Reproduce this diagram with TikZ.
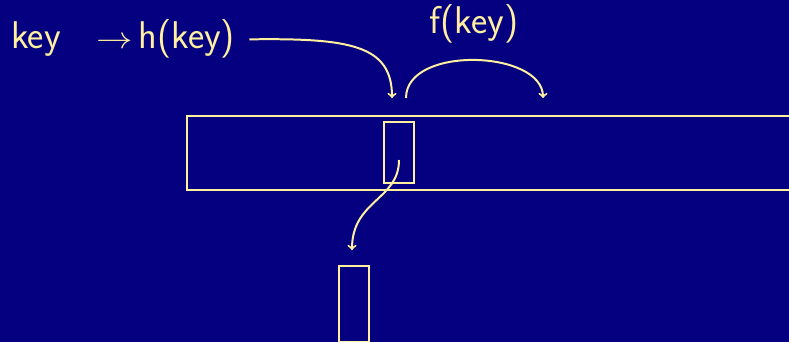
\documentclass[tikz,border=0pt]{standalone}
\usetikzlibrary{positioning}

\definecolor{slidebg}{RGB}{4,0,128}
\definecolor{chalk}{RGB}{255,240,160}

\tikzset{
  cell/.style={draw=chalk,line width=1.7pt},
  link/.style={draw=chalk,line width=1.7pt,->},
  label/.style={text=chalk,font=\sffamily\fontsize{33}{40}\selectfont,inner sep=0pt}
}

\begin{document}
\begin{tikzpicture}[x=0.03cm,y=-0.03cm]
\fill[slidebg] (0,0) rectangle (789,342);
\useasboundingbox (0,0) rectangle (789,342);
\clip (0,0) rectangle (789,342);

\node[label,anchor=base west] (key) at (11,49) {key};
\node[label,anchor=base west] (hash) at (96,49) {\scalebox{1.25}[1.05]{$\rightarrow$}\hspace{5pt}h(key)};
\node[label] (fkey) at (474,24) {f(key)};

% table and its slot
\node[cell,minimum width=660*0.03cm,minimum height=74*0.03cm,anchor=north west,inner sep=0pt] (table) at (186,115) {};
\node[cell,minimum width=30*0.03cm,minimum height=61*0.03cm,anchor=north west,inner sep=0pt] (slot) at (383,121) {};
\node[cell,minimum width=30*0.03cm,minimum height=76*0.03cm,anchor=north west,inner sep=0pt] (bucket) at (338,265) {};

\coordinate (hin) at (392,98);
\coordinate (fout) at (406,98);
\coordinate (fin) at (543,98);
\coordinate (down) at (399,160);
\coordinate (bin) at (352,250);

\draw[link] ([xshift=12]hash.east) .. controls (350,38) and (392,45) .. (hin);
\draw[link] (fout) .. controls (406,45) and (543,50) .. (fin);
\draw[link] (down) .. controls (399,200) and (352,200) .. (bin);

\end{tikzpicture}
\end{document}
